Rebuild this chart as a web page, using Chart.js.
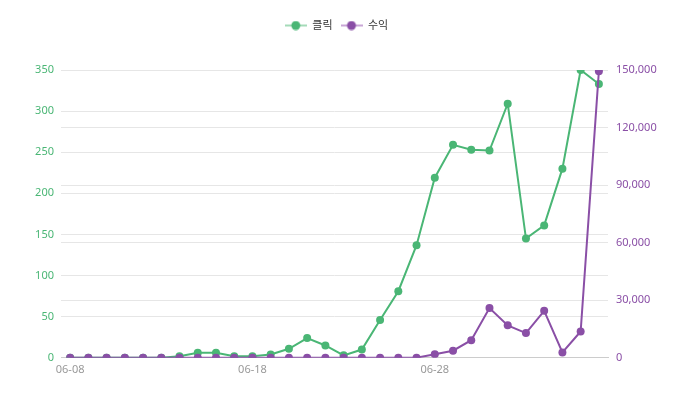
<!DOCTYPE html>
<html>
<head>
<meta charset="utf-8">
<script src="https://cdn.jsdelivr.net/npm/chart.js@4.4.1/dist/chart.umd.min.js"></script>
<style>
  html, body { margin: 0; padding: 0; background: #fff; }
  #wrap { width: 673px; height: 396px; }
</style>
</head>
<body>
<div id="wrap"><canvas id="chart"></canvas></div>
<script>
// dates 06-08 .. 07-07
const labels = ['06-08','06-09','06-10','06-11','06-12','06-13','06-14','06-15','06-16','06-17',
                '06-18','06-19','06-20','06-21','06-22','06-23','06-24','06-25','06-26','06-27',
                '06-28','06-29','06-30','07-01','07-02','07-03','07-04','07-05','07-06','07-07'];
const clicks = [0, 0, 0, 0, 0, 0, 2, 6, 6, 2,
                2, 4, 11, 24, 15, 3, 10, 46, 81, 137,
                219, 259, 253, 252, 309, 145, 161, 230, 350, 333];
const revenue = [0, 0, 0, 0, 0, 0, 0, 0, 0, 0,
                 0, 0, 0, 0, 0, 0, 0, 0, 0, 0,
                 1900, 3700, 9200, 25900, 16900, 12900, 24500, 2800, 13700, 149400];

const GREEN = '#4ab675';
const PURPLE = '#8a4fa6';
const FONT = "'Noto Sans', 'Noto Sans CJK KR', sans-serif";

// legend marker: light line with a dot
function legendIcon(color, light) {
    const c = document.createElement('canvas');
    c.width = 22; c.height = 10;
    const g = c.getContext('2d');
    g.strokeStyle = light; g.lineWidth = 2;
    g.beginPath(); g.moveTo(0, 5); g.lineTo(22, 5); g.stroke();
    g.fillStyle = color;
    g.beginPath(); g.arc(11, 5, 4.5, 0, Math.PI * 2); g.fill();
    return c;
}
const icons = [legendIcon(GREEN, '#a5dbb9'), legendIcon(PURPLE, '#c9a7d6')];

// extra space under the legend
const legendSpace = {
    id: 'legendSpace',
    beforeInit(chart) {
        const fit = chart.legend.fit;
        chart.legend.fit = function() {
            fit.bind(chart.legend)();
            this.height += 29;
        };
    }
};

new Chart(document.getElementById('chart'), {
    type: 'line',
    data: {
        labels: labels,
        datasets: [{
            label: '클릭',
            data: clicks,
            yAxisID: 'y',
            order: 2,
            borderColor: GREEN,
            backgroundColor: GREEN,
            borderWidth: 2,
            pointRadius: 4,
            pointBorderWidth: 0,
            tension: 0
        }, {
            label: '수익',
            data: revenue,
            yAxisID: 'y1',
            order: 1,
            borderColor: PURPLE,
            backgroundColor: PURPLE,
            borderWidth: 2,
            pointRadius: 4,
            pointBorderWidth: 0,
            tension: 0
        }]
    },
    plugins: [legendSpace],
    options: {
        responsive: true,
        maintainAspectRatio: false,
        animation: false,
        layout: { padding: { left: 0, right: 0, bottom: 15, top: 12 } },
        plugins: {
            legend: {
                position: 'top',
                labels: {
                    usePointStyle: true,
                    pointStyleWidth: 22,
                    color: '#333',
                    font: { family: FONT, size: 11 },
                    padding: 8,
                    generateLabels: function(chart) {
                        return [0, 1].map(i => {
                            const ds = chart.data.datasets[i];
                            return {
                                text: ds.label,
                                fillStyle: ds.borderColor,
                                strokeStyle: ds.borderColor,
                                pointStyle: icons[i],
                                fontColor: '#333',
                                datasetIndex: i,
                                hidden: false
                            };
                        });
                    }
                }
            },
            tooltip: { enabled: false }
        },
        scales: {
            x: {
                offset: true,
                grid: { display: false, drawTicks: false },
                border: { color: '#ccc' },
                ticks: {
                    autoSkip: false,
                    maxRotation: 0,
                    color: '#999',
                    font: { family: FONT, size: 11 },
                    padding: 5,
                    callback: function(v, i) { return i % 10 === 0 ? labels[i] : ''; }
                }
            },
            y: {
                position: 'left',
                min: 0, max: 350,
                afterFit: s => { s.width = 61; },
                grid: { color: '#e6e6e6', drawTicks: false },
                border: { display: false },
                ticks: {
                    stepSize: 50,
                    color: GREEN,
                    font: { family: FONT, size: 11 },
                    padding: 7
                }
            },
            y1: {
                position: 'right',
                min: 0, max: 150000,
                afterFit: s => { s.width = 65; },
                grid: { color: '#e6e6e6', drawTicks: false },
                border: { display: false },
                ticks: {
                    stepSize: 30000,
                    color: PURPLE,
                    font: { family: FONT, size: 11 },
                    padding: 8,
                    callback: v => v.toLocaleString('en-US')
                }
            }
        }
    }
});
</script>
</body>
</html>
